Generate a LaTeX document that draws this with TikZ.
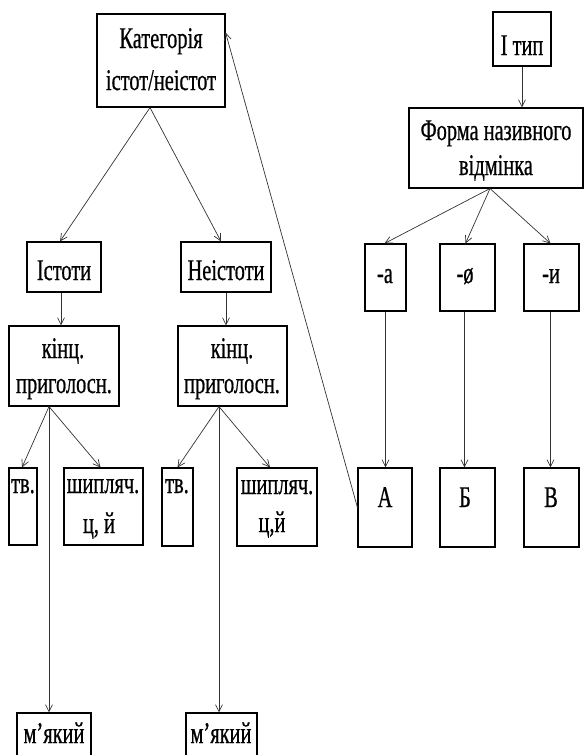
\documentclass[tikz,border=0pt]{standalone}
\usepackage{fontspec}
\setmainfont[FakeStretch=0.68,FakeBold=0.6]{Liberation Serif}
\usetikzlibrary{arrows.meta}
\begin{document}
\begin{tikzpicture}[x=1pt,y=-1pt,
  box/.style={draw=black,line width=1.1pt,rectangle,inner sep=0pt},
  txt/.style={inner sep=0pt,anchor=base,font=\fontsize{30}{36}\selectfont},
  conn/.style={draw=black!80,line width=0.7pt,-{Straight Barb[length=7pt,width=7pt]}},
  plain/.style={draw=black!80,line width=0.7pt}]
\useasboundingbox (0,0) rectangle (584,755);
\clip (0,0) rectangle (584,755);
% boxes
\node[box,minimum width=128pt,minimum height=93pt] (kat) at (161,60.5) {};
\node[box,minimum width=58pt,minimum height=54pt] (itype) at (522,39) {};
\node[box,minimum width=174pt,minimum height=80pt] (forma) at (496,148) {};
\node[box,minimum width=74pt,minimum height=50pt] (ist) at (64,267) {};
\node[box,minimum width=90pt,minimum height=50pt] (neist) at (226,267) {};
\node[box,minimum width=110pt,minimum height=80pt] (kinc1) at (64,366) {};
\node[box,minimum width=109pt,minimum height=80pt] (kinc2) at (232.5,366) {};
\node[box,minimum width=28pt,minimum height=77pt] (tv1) at (23,506.5) {};
\node[box,minimum width=79pt,minimum height=77pt] (sh1) at (103.5,506.5) {};
\node[box,minimum width=31pt,minimum height=78pt] (tv2) at (177.5,507) {};
\node[box,minimum width=80pt,minimum height=78pt] (sh2) at (277,507) {};
\node[box,minimum width=41pt,minimum height=67pt] (ka) at (385.5,277.5) {};
\node[box,minimum width=55pt,minimum height=67pt] (ko) at (467.5,277.5) {};
\node[box,minimum width=55pt,minimum height=67pt] (ki) at (551.5,277.5) {};
\node[box,minimum width=54pt,minimum height=79pt] (A) at (385,507.5) {};
\node[box,minimum width=55pt,minimum height=79pt] (B) at (467.5,507.5) {};
\node[box,minimum width=55pt,minimum height=79pt] (V) at (551.5,507.5) {};
\node[box,minimum width=74pt,minimum height=60pt] (m1) at (54,743) {};
\node[box,minimum width=71pt,minimum height=60pt] (m2) at (221.5,743) {};
% texts
\node[txt] (t-kat1) at (161,48) {Категорія};
\node[txt] (t-kat2) at (161,90) {істот/неістот};
\node[txt] (t-itype) at (522,55) {І тип};
\node[txt] (t-forma1) at (496,140) {Форма називного};
\node[txt] (t-forma2) at (496,175) {відмінка};
\node[txt] (t-ist) at (64,280) {Істоти};
\node[txt] (t-neist) at (226,280) {Неістоти};
\node[txt] (t-k1a) at (63,358) {кінц.};
\node[txt] (t-k1b) at (64,393) {приголосн.};
\node[txt] (t-k2a) at (232,358) {кінц.};
\node[txt] (t-k2b) at (232,393) {приголосн.};
\node[txt] (t-tv1) at (23,493) {тв.};
\node[txt] (t-sh1a) at (103,493) {шипляч.};
\node[txt] (t-sh1b) at (99,533) {ц, й};
\node[txt] (t-tv2) at (177,493) {тв.};
\node[txt] (t-sh2a) at (277,494) {шипляч.};
\node[txt] (t-sh2b) at (272,532) {ц,й};
\node[txt] (t-ka) at (385,283) {-а};
\node[txt] (t-ko) at (465,283) {-ø};
\node[txt] (t-ki) at (551,283) {-и};
\node[txt] (t-A) at (385,507) {А};
\node[txt] (t-B) at (465,507) {Б};
\node[txt] (t-V) at (551,507) {В};
\node[txt] (t-m1) at (54,743) {м'який};
\node[txt] (t-m2) at (221,743) {м'який};
% connectors
\coordinate (katb) at ([xshift=-11pt]kat.south);
\draw[conn] (katb) -- ([xshift=-4pt]ist.north);
\draw[conn] (katb) -- ([xshift=-5pt]neist.north);
\draw[conn] (A.west) -- ([yshift=-19pt]kat.north east);
\draw[conn] (itype.south) -- (itype.south |- forma.north);
\coordinate (formb) at ([xshift=-6pt]forma.south);
\draw[conn] (formb) -- ([xshift=-1pt]ka.north);
\draw[conn] (formb) -- ([xshift=-2pt]ko.north);
\draw[conn] (formb) -- ([xshift=-1pt]ki.north);
\draw[conn] (ka.south) -- (ka.south |- A.north);
\draw[conn] ([xshift=-3pt]ko.south) -- ([xshift=-3pt]ko.south |- B.north);
\draw[conn] ([xshift=-1pt]ki.south) -- ([xshift=-1pt]ki.south |- V.north);
\draw[conn] ([xshift=-3pt]ist.south) -- ([xshift=-3pt]ist.south |- kinc1.north);
\draw[conn] (neist.south) -- (neist.south |- kinc2.north);
\coordinate (k1b) at ([xshift=-15pt]kinc1.south);
\draw[conn] (k1b) -- ([xshift=-1pt]tv1.north);
\draw[conn] (k1b) -- ([xshift=-3pt]sh1.north);
\draw[conn] (k1b) -- (k1b |- m1.north);
\coordinate (k2b) at ([xshift=-13.5pt]kinc2.south);
\draw[conn] (k2b) -- (tv2.north);
\draw[conn] (k2b) -- ([xshift=-7pt]sh2.north);
\draw[conn] (k2b) -- (k2b |- m2.north);
\end{tikzpicture}
\end{document}
